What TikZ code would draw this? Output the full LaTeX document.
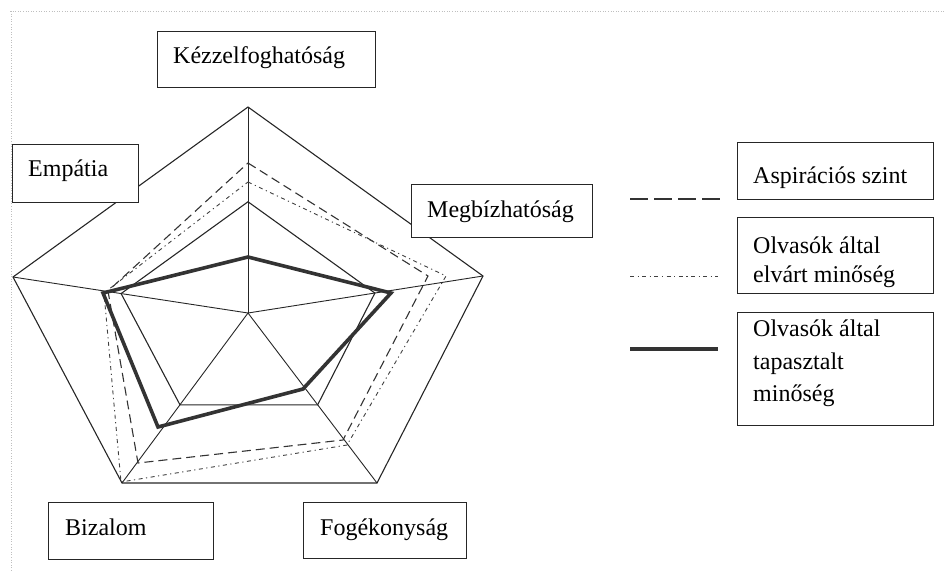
\documentclass[tikz,border=0pt]{standalone}
\usepackage{fontspec}
\setmainfont{Liberation Serif}
\usetikzlibrary{calc}
\begin{document}
\begin{tikzpicture}[x=1pt,y=-1pt,
  grid/.style={line width=1.1pt, black!85, line join=miter},
  aspir/.style={line width=1.1pt, black!80, dash pattern=on 9pt off 5pt},
  elvart/.style={line width=0.9pt, black!75, dash pattern=on 4pt off 3.5pt on 1.2pt off 3.5pt},
  tapasz/.style={line width=3.6pt, black!80, line join=miter},
  box/.style={draw=black!85, line width=1.2pt, fill=white, rectangle, inner sep=0pt},
  txt/.style={anchor=base west, inner sep=0pt, font=\fontsize{24}{27}\selectfont, text=black},
  frame/.style={black!25, line width=0.6pt, dotted}]
\useasboundingbox (0,0) rectangle (944,571);
% faint page frame
\draw[frame] (10,11) -- (944,11);
\draw[frame] (11,11) -- (11,571);

% axes of the radar chart
\coordinate (c) at (248,313);
\coordinate (o1) at (248,107);
\coordinate (o2) at (483,276);
\coordinate (o3) at (377,483);
\coordinate (o4) at (122,483);
\coordinate (o5) at (13,277);
\foreach \k in {1,...,5} \coordinate (i\k) at ($(c)!0.54!(o\k)$);

\draw[grid] (o1) -- (o2) -- (o3) -- (o4) -- (o5) -- cycle;
\draw[grid] (i1) -- (i2) -- (i3) -- (i4) -- (i5) -- cycle;
\foreach \k in {1,...,5} \draw[grid, line width=0.9pt] (c) -- (o\k);

% data series
\draw[aspir] (248,163) -- (428,276) -- (343,440) -- (138,463) -- (108,291) -- cycle;
\draw[elvart] (248,182) -- (446,276) -- (347,445) -- (121,482) -- (104,293) -- cycle;
\draw[tapasz] (248,257) -- (391,293) -- (303,389) -- (158,427) -- (103,293) -- cycle;

% dimension labels
\node[box, anchor=north west, minimum width=218pt, minimum height=56pt] (kez) at (157,31) {};
\node[txt] (kezt) at (173,63) {Kézzelfoghatóság};
\node[box, anchor=north west, minimum width=126pt, minimum height=58pt] (emp) at (12,144) {};
\node[txt] (empt) at (28,176) {Empátia};
\node[box, anchor=north west, minimum width=181pt, minimum height=53pt] (meg) at (411,184) {};
\node[txt] (megt) at (427,217) {Megbízhatóság};
\node[box, anchor=north west, minimum width=165pt, minimum height=57pt] (biz) at (48,502) {};
\node[txt] (bizt) at (65,535) {Bizalom};
\node[box, anchor=north west, minimum width=163pt, minimum height=56pt] (fog) at (303,502) {};
\node[txt] (fogt) at (320,535) {Fogékonyság};

% legend
\node[box, anchor=north west, minimum width=196pt, minimum height=57pt] (lg1) at (737,142) {};
\node[txt] (lg1t) at (753,183) {Aspirációs szint};
\node[box, anchor=north west, minimum width=196pt, minimum height=76pt] (lg2) at (737,217) {};
\node[txt] (lg2a) at (753,253) {Olvasók által};
\node[txt] (lg2b) at (753,282) {elvárt minőség};
\node[box, anchor=north west, minimum width=196pt, minimum height=113pt] (lg3) at (737,312) {};
\node[txt] (lg3a) at (753,336) {Olvasók által};
\node[txt] (lg3b) at (753,369) {tapasztalt};
\node[txt] (lg3c) at (753,401) {minőség};

\coordinate (s1a) at (630,199); \coordinate (s1b) at (720,199);
\coordinate (s2a) at (630,276); \coordinate (s2b) at (718,276);
\coordinate (s3a) at (630,349); \coordinate (s3b) at (718,349);
\draw[aspir, line width=1.6pt, dash pattern=on 18pt off 6pt] (s1a) -- (s1b);
\draw[elvart] (s2a) -- (s2b);
\draw[tapasz] (s3a) -- (s3b);
\end{tikzpicture}
\end{document}
